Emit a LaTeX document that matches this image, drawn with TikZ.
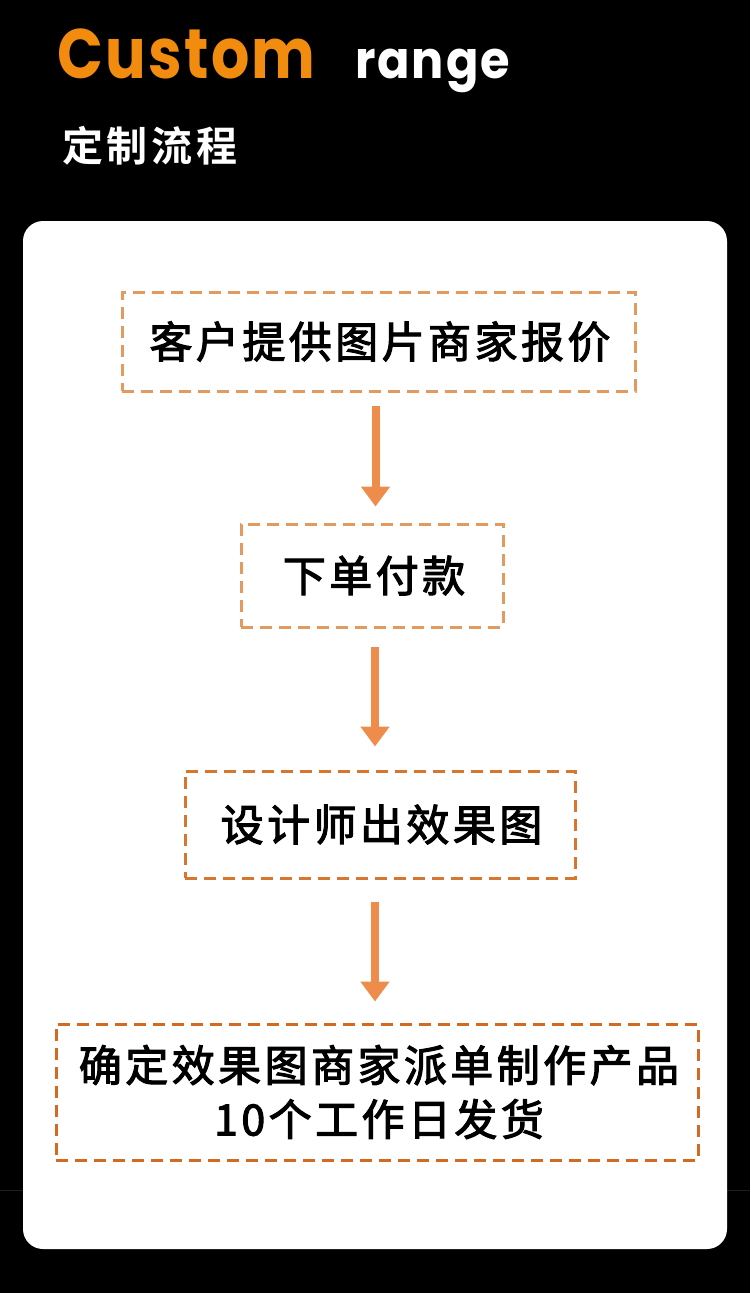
\documentclass[tikz,border=0pt]{standalone}
\usepackage{fontspec}
\usetikzlibrary{arrows.meta}
\newfontfamily\latinbold[LetterSpace=4]{Poppins Bold}
\newfontfamily\cjkbold[LetterSpace=9]{Noto Sans CJK SC Bold}
\newfontfamily\cjkbox[LetterSpace=8,FakeBold=2.5]{Noto Sans CJK SC}
\definecolor{titleorange}{HTML}{F28C0F}
\definecolor{boxA}{HTML}{E39A5E}
\definecolor{boxB}{HTML}{D6762F}
\definecolor{boxC}{HTML}{D26A22}
\definecolor{arrowc}{HTML}{EE8C4C}
\tikzset{
  stepbox/.style={draw=#1, line width=3pt, dash pattern=on 12pt off 7pt, fill=white,
    inner sep=0pt, align=center, font=\cjkbox\fontsize{43}{54}\selectfont, text=black},
  flowarrow/.style={draw=arrowc, line width=8pt, -{Triangle[width=28pt,length=20pt]}}
}
\begin{document}
\begin{tikzpicture}[x=1pt,y=-1pt]
\fill[black] (0,0) rectangle (750,1293);
\useasboundingbox (0,0) rectangle (750,1293);
\draw[color={black!88!white}, line width=1pt] (0,1190) -- (750,1190);
\fill[white, rounded corners=20pt] (23,221) rectangle (727,1249);
\node[anchor=base west, inner sep=0pt, text=titleorange, xscale=0.86, font=\latinbold\fontsize{70}{80}\selectfont] (custom) at (57,78) {Custom};
\node[anchor=base west, inner sep=0pt, text=white, xscale=0.92, font=\latinbold\fontsize{52}{60}\selectfont] (range) at (355,78) {range};
\node[anchor=west, inner sep=0pt, text=white, font=\cjkbold\fontsize{41}{48}\selectfont] (sub) at (62,146) {定制流程};
\node[stepbox=boxA, minimum width=513pt, minimum height=99pt] (b1) at (378.5,341.5) {\hspace*{3pt}客户提供图片商家报价};
\node[stepbox=boxA, minimum width=262pt, minimum height=103pt] (b2) at (372,575.5) {\hspace*{4pt}下单付款};
\node[stepbox=boxB, minimum width=390pt, minimum height=107pt] (b3) at (380,824.5) {\hspace*{3pt}设计师出效果图};
\node[stepbox=boxC, minimum width=642pt, minimum height=136pt] (b4) at (377,1092) {\hspace*{4pt}确定效果图商家派单制作产品\\\hspace*{4pt}10个工作日发货};
\draw[flowarrow, shorten <=13pt, shorten >=16pt] ([xshift=-3pt]b1.south) -- ([xshift=-3pt]b1.south |- b2.north);
\draw[flowarrow, shorten <=18pt, shorten >=23pt] ([xshift=3pt]b2.south) -- ([xshift=3pt]b2.south |- b3.north);
\draw[flowarrow, shorten <=22pt, shorten >=21pt] ([xshift=-5pt]b3.south) -- ([xshift=-5pt]b3.south |- b4.north);
\end{tikzpicture}
\end{document}
